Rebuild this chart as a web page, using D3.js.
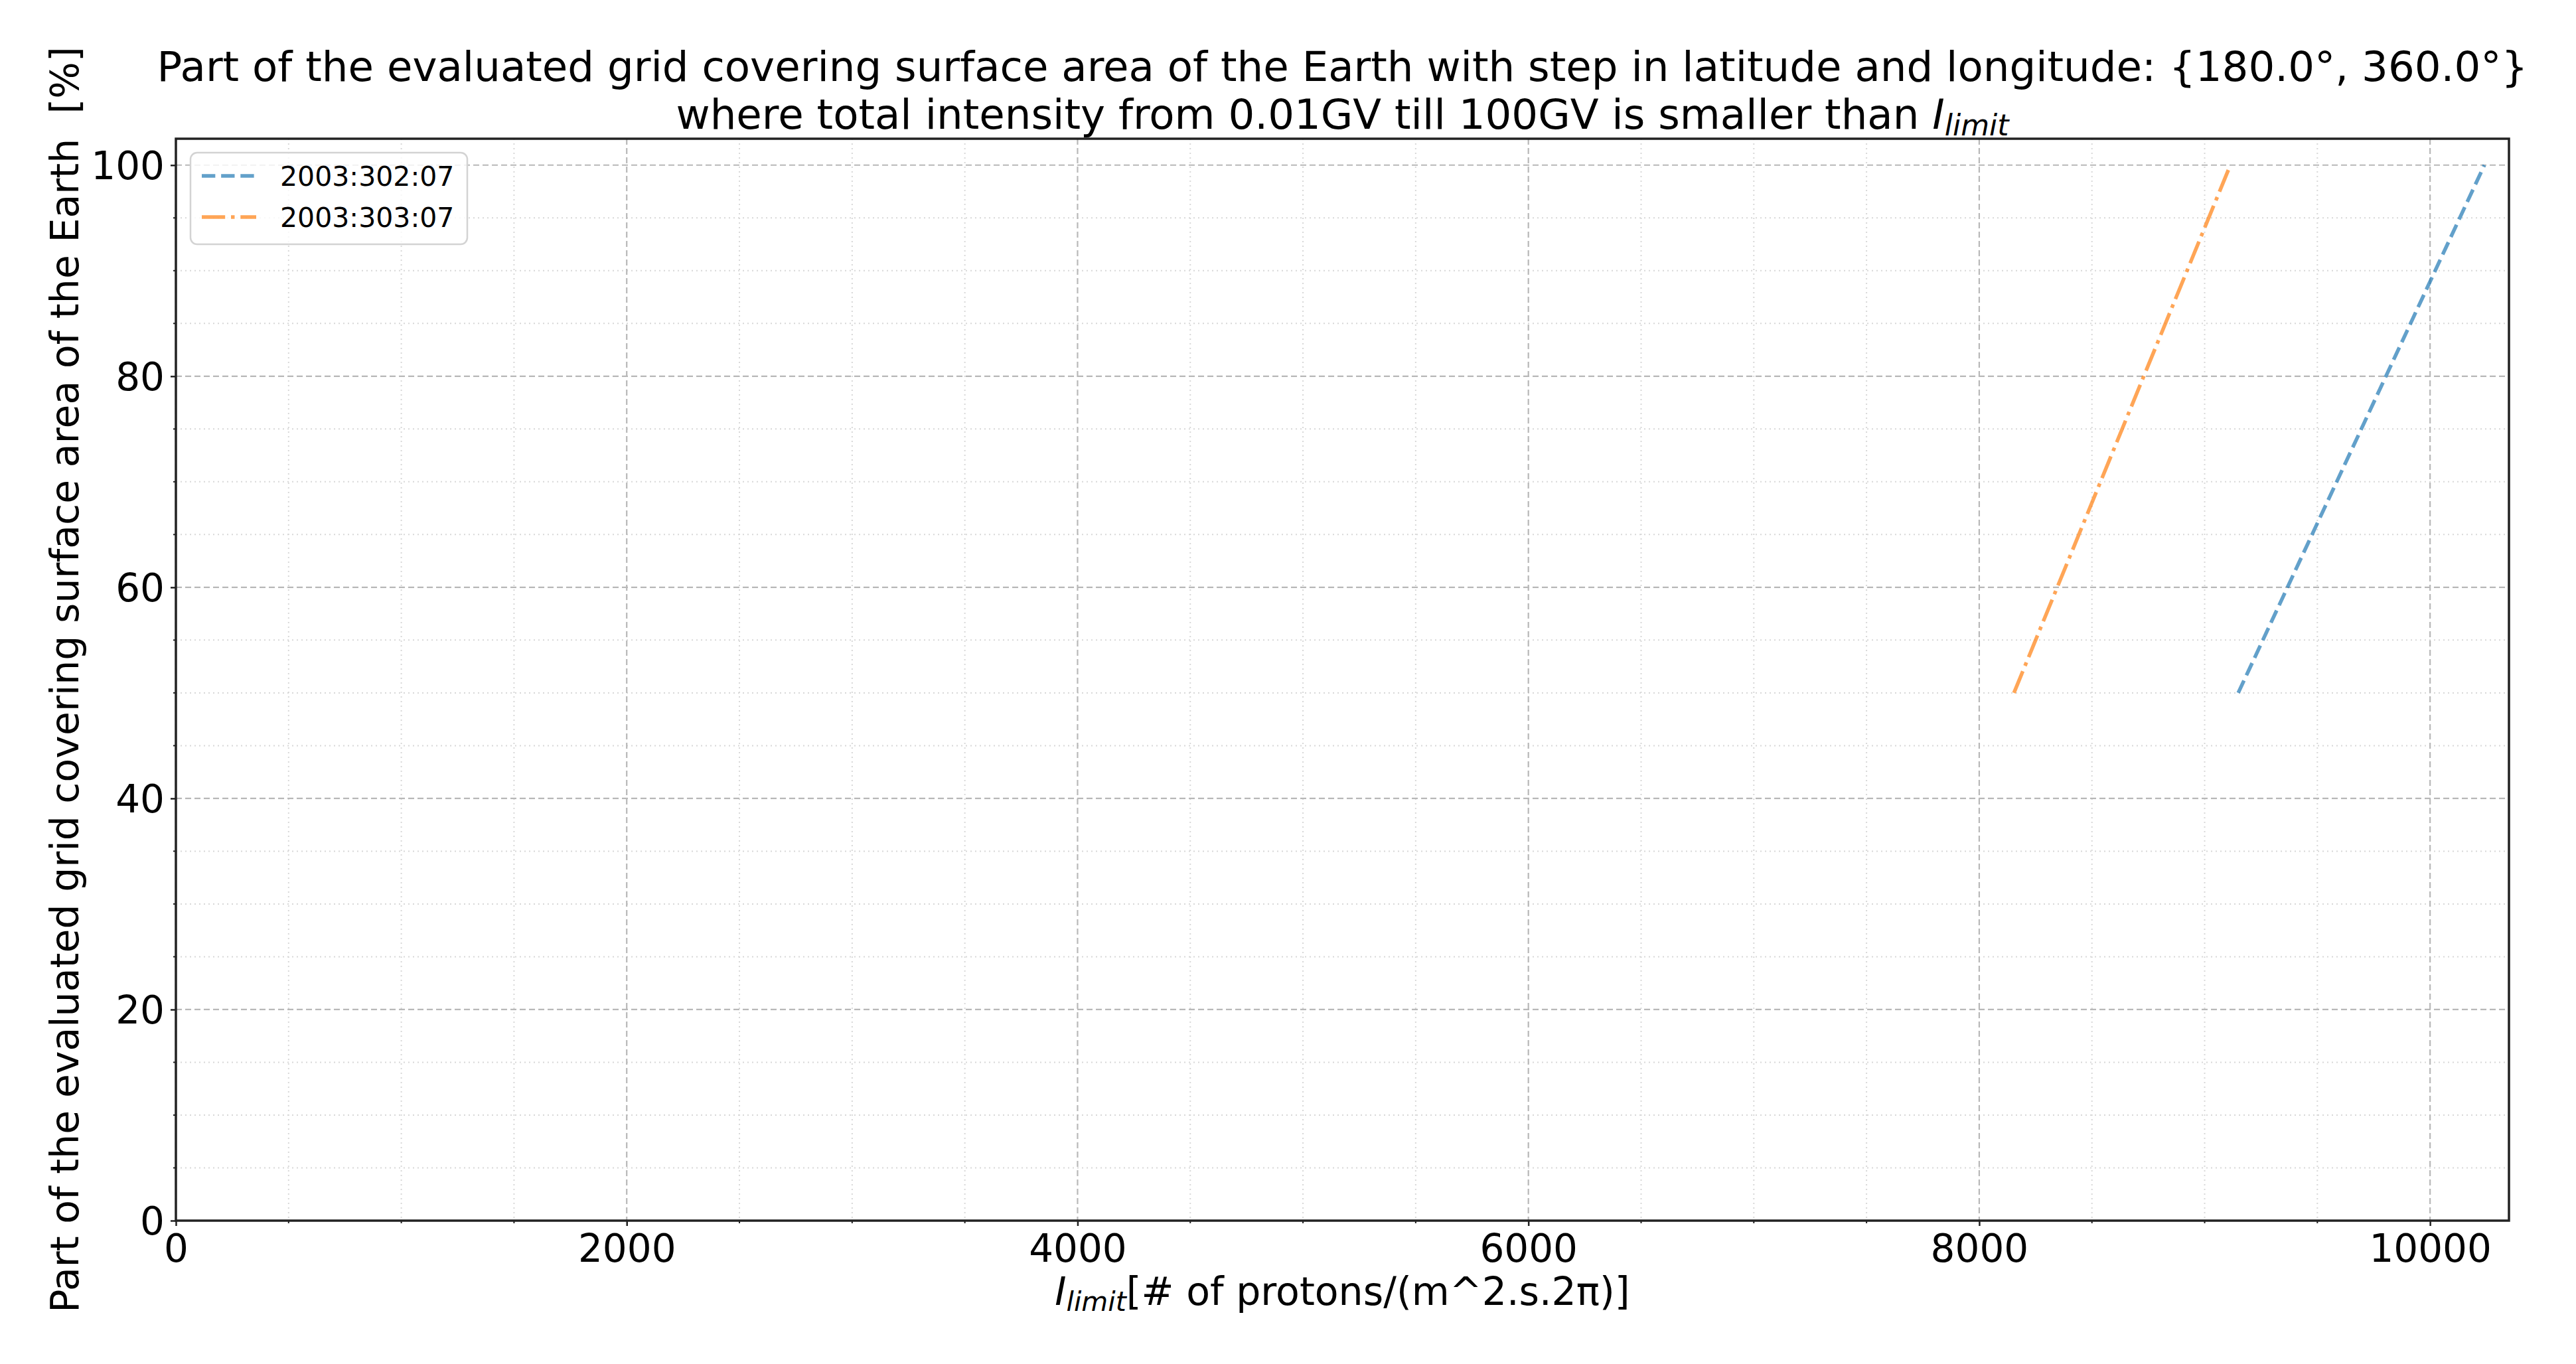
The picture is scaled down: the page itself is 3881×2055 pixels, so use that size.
<!DOCTYPE html>
<html>
<head>
<meta charset="utf-8">
<script src="https://cdn.jsdelivr.net/npm/d3@7"></script>
<style>
  html, body { margin: 0; padding: 0; background: #fff; }
  svg { display: block; font-family: "DejaVu Sans", sans-serif; }
</style>
</head>
<body>
<svg id="chart" width="3881" height="2055"></svg>
<script>
// ---- data ----
const seriesNames = ["2003:302:07", "2003:303:07"];
const series302X = [9149, 10241];
const series302Y = [50, 100];
const series303X = [8154, 9114];
const series303Y = [50, 100];
const xTicks = [0, 2000, 4000, 6000, 8000, 10000];
const yTicks = [0, 20, 40, 60, 80, 100];
const xDomain = [0, 10350];
const yDomain = [0, 102.5];

// ---- layout ----
const W = 3881, H = 2055;
const m = { left: 265, right: 3780, top: 209, bottom: 1839 };
const svg = d3.select("#chart");

const x = d3.scaleLinear().domain(xDomain).range([m.left, m.right]);
const y = d3.scaleLinear().domain(yDomain).range([m.bottom, m.top]);

const xMinor = d3.range(0, xDomain[1], 500).filter(v => v % 2000 !== 0);
const yMinor = d3.range(0, yDomain[1], 5).filter(v => v % 20 !== 0);

const grid = svg.append("g");
// minor grid
grid.selectAll(".xmg").data(xMinor).join("line")
  .attr("x1", d => x(d)).attr("x2", d => x(d)).attr("y1", m.top).attr("y2", m.bottom)
  .attr("stroke", "#d8d8d8").attr("stroke-width", 2).attr("stroke-dasharray", "2,5");
grid.selectAll(".ymg").data(yMinor).join("line")
  .attr("y1", d => y(d)).attr("y2", d => y(d)).attr("x1", m.left).attr("x2", m.right)
  .attr("stroke", "#d8d8d8").attr("stroke-width", 2).attr("stroke-dasharray", "2,5");
// major grid
grid.selectAll(".xg").data(xTicks).join("line")
  .attr("x1", d => x(d)).attr("x2", d => x(d)).attr("y1", m.top).attr("y2", m.bottom)
  .attr("stroke", "#b8b8b8").attr("stroke-width", 2.2).attr("stroke-dasharray", "9,5");
grid.selectAll(".yg").data(yTicks).join("line")
  .attr("y1", d => y(d)).attr("y2", d => y(d)).attr("x1", m.left).attr("x2", m.right)
  .attr("stroke", "#b8b8b8").attr("stroke-width", 2.2).attr("stroke-dasharray", "9,5");

// ---- lines ----
const line = d3.line().x(d => x(d[0])).y(d => y(d[1]));
const d302 = series302X.map((v, i) => [v, series302Y[i]]);
const d303 = series303X.map((v, i) => [v, series303Y[i]]);
const lw = 5.5;
const styles = [
  { color: "#1f77b4", dash: `${3.7*lw},${1.6*lw}` },
  { color: "#ff7f0e", dash: `${6.4*lw},${1.6*lw},${1*lw},${1.6*lw}` }
];
svg.append("path").datum(d302).attr("d", line).attr("fill", "none")
  .attr("stroke", styles[0].color).attr("stroke-opacity", 0.7).attr("stroke-width", lw)
  .attr("stroke-dasharray", styles[0].dash);
svg.append("path").datum(d303).attr("d", line).attr("fill", "none")
  .attr("stroke", styles[1].color).attr("stroke-opacity", 0.7).attr("stroke-width", lw)
  .attr("stroke-dasharray", styles[1].dash);

// ---- axes ----
const xAxis = d3.axisBottom(x).tickValues(xTicks).tickFormat(d3.format("d")).tickSize(8).tickPadding(10);
const yAxis = d3.axisLeft(y).tickValues(yTicks).tickFormat(d3.format("d")).tickSize(8).tickPadding(9);
const gx = svg.append("g").attr("transform", `translate(0,${m.bottom})`).call(xAxis);
const gy = svg.append("g").attr("transform", `translate(${m.left},0)`).call(yAxis);
[gx, gy].forEach(g => {
  g.select(".domain").remove();
  g.selectAll(".tick line").attr("stroke", "#222").attr("stroke-width", 2.5);
  g.selectAll(".tick text").attr("fill", "#000").style("font-size", "58px")
    .style("font-family", "DejaVu Sans, sans-serif");
});
gx.selectAll(".tick text").attr("dy", "0.76em");
gy.selectAll(".tick text").attr("dy", "0.36em");

// minor ticks
svg.append("g").selectAll("line").data(xMinor).join("line")
  .attr("x1", d => x(d)).attr("x2", d => x(d)).attr("y1", m.bottom).attr("y2", m.bottom + 4)
  .attr("stroke", "#222").attr("stroke-width", 2);
svg.append("g").selectAll("line").data(yMinor).join("line")
  .attr("y1", d => y(d)).attr("y2", d => y(d)).attr("x1", m.left).attr("x2", m.left - 4)
  .attr("stroke", "#222").attr("stroke-width", 2);

// frame
svg.append("rect").attr("x", m.left).attr("y", m.top)
  .attr("width", m.right - m.left).attr("height", m.bottom - m.top)
  .attr("fill", "none").attr("stroke", "#222").attr("stroke-width", 3.5);

// ---- legend ----
const lg = svg.append("g");
lg.append("rect").attr("x", 287).attr("y", 230).attr("width", 417).attr("height", 138)
  .attr("rx", 10).attr("fill", "#fff").attr("fill-opacity", 0.8)
  .attr("stroke", "#d3d3d3").attr("stroke-width", 2.5);
const legendY = [265, 327];
seriesNames.forEach((name, i) => {
  lg.append("line").attr("x1", 304).attr("x2", 386).attr("y1", legendY[i]).attr("y2", legendY[i])
    .attr("stroke", styles[i].color).attr("stroke-opacity", 0.7).attr("stroke-width", lw)
    .attr("stroke-dasharray", styles[i].dash);
  lg.append("text").attr("x", 422).attr("y", legendY[i] + 15)
    .style("font-size", "41px").attr("fill", "#000").text(name);
});

// ---- title ----
const cx = (m.left + m.right) / 2;
svg.append("text").attr("x", cx).attr("y", 122).attr("text-anchor", "middle")
  .style("font-size", "62.6px").attr("fill", "#000")
  .text("Part of the evaluated grid covering surface area of the Earth with step in latitude and longitude: {180.0°, 360.0°}");
const t2 = svg.append("text").attr("x", cx).attr("y", 194).attr("text-anchor", "middle")
  .style("font-size", "62.6px").attr("fill", "#000");
t2.append("tspan").text("where total intensity from 0.01GV till 100GV is smaller than ");
t2.append("tspan").style("font-style", "italic").text("I");
t2.append("tspan").style("font-style", "italic").style("font-size", "44px").attr("dy", 10).text("limit");

// ---- axis labels ----
const xl = svg.append("text").attr("x", cx).attr("y", 1966).attr("text-anchor", "middle")
  .style("font-size", "58.5px").attr("fill", "#000");
xl.append("tspan").style("font-style", "italic").text("I");
xl.append("tspan").style("font-style", "italic").style("font-size", "41px").attr("dy", 9).text("limit");
xl.append("tspan").attr("dy", -9).text("[# of protons/(m^2.s.2π)]");

svg.append("text").attr("transform", `translate(118,${(m.top + m.bottom) / 2}) rotate(-90)`)
  .attr("text-anchor", "middle").style("font-size", "58.5px").style("white-space", "pre")
  .attr("xml:space", "preserve").attr("fill", "#000")
  .text("Part of the evaluated grid covering surface area of the Earth  [%]");
</script>
</body>
</html>
